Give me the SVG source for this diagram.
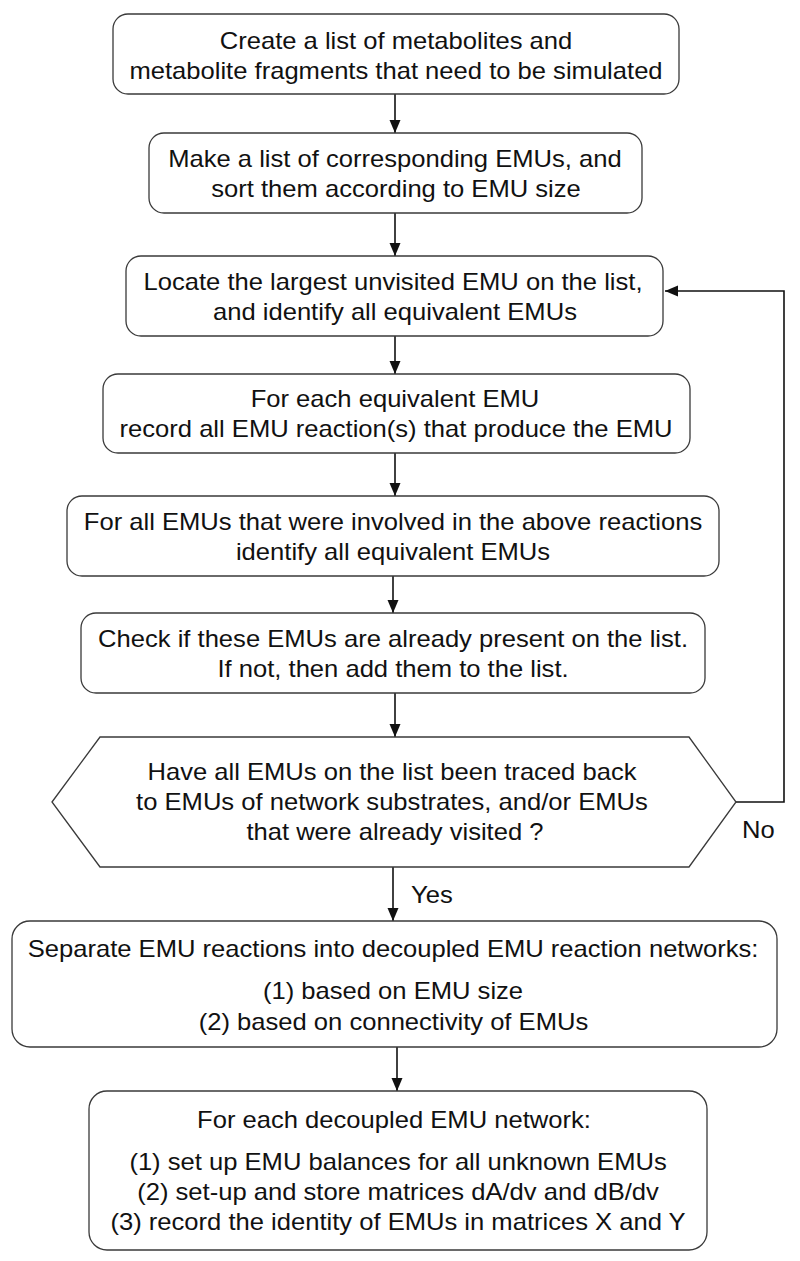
<svg xmlns="http://www.w3.org/2000/svg" width="800" height="1261" viewBox="0 0 800 1261">
<defs>
<style>
.box{fill:#ffffff;stroke:#3a3a3a;stroke-width:1.3}
.t{font-family:"Liberation Sans",Arial,Helvetica,sans-serif;font-size:24px;fill:#111;text-anchor:middle}
.lbl{font-family:"Liberation Sans",Arial,Helvetica,sans-serif;font-size:24px;fill:#111}
.c{fill:none;stroke:#111;stroke-width:1.6}
</style>
<marker id="ah" markerUnits="userSpaceOnUse" markerWidth="14" markerHeight="14" viewBox="0 0 14 14" refX="13" refY="7" orient="auto">
<path d="M0,1.5 L13,7 L0,12.5 Z" fill="#111"/>
</marker>
</defs>
<rect width="800" height="1261" fill="#ffffff"/>
<g id="connectors">
<line class="c" x1="395" y1="94" x2="395" y2="133" marker-end="url(#ah)"/>
<line class="c" x1="395" y1="213" x2="395" y2="256" marker-end="url(#ah)"/>
<line class="c" x1="395" y1="336" x2="395" y2="374" marker-end="url(#ah)"/>
<line class="c" x1="395" y1="453" x2="395" y2="496" marker-end="url(#ah)"/>
<line class="c" x1="393" y1="576" x2="393" y2="613" marker-end="url(#ah)"/>
<line class="c" x1="395" y1="693" x2="395" y2="737" marker-end="url(#ah)"/>
<line class="c" x1="393" y1="867" x2="393" y2="921" marker-end="url(#ah)"/>
<line class="c" x1="397" y1="1047" x2="397" y2="1091" marker-end="url(#ah)"/>
<polyline class="c" points="736,802 784,802 784,291 665,291" marker-end="url(#ah)"/>
<g transform="scale(1.066,1)">
<text class="lbl" x="696" y="838">No</text>
<text class="lbl" x="385.6" y="903">Yes</text>
</g>
</g>
<g id="n1">
<rect class="box" x="113" y="14" width="566" height="80" rx="15"/>
<g transform="scale(1.066,1)">
<text class="t" x="371.5" y="49">Create a list of metabolites and</text>
<text class="t" x="371.5" y="79">metabolite fragments that need to be simulated</text>
</g>
</g>
<g id="n2">
<rect class="box" x="149" y="133" width="493" height="80" rx="15"/>
<g transform="scale(1.066,1)">
<text class="t" x="370.5" y="167">Make a list of corresponding EMUs, and</text>
<text class="t" x="371.5" y="197">sort them according to EMU size</text>
</g>
</g>
<g id="n3">
<rect class="box" x="126" y="256" width="537" height="80" rx="15"/>
<g transform="scale(1.066,1)">
<text class="t" x="368.7" y="290">Locate the largest unvisited EMU on the list,</text>
<text class="t" x="370.5" y="320">and identify all equivalent EMUs</text>
</g>
</g>
<g id="n4">
<rect class="box" x="103" y="374" width="587" height="79" rx="15"/>
<g transform="scale(1.066,1)">
<text class="t" x="370.5" y="407">For each equivalent EMU</text>
<text class="t" x="371.5" y="437">record all EMU reaction(s) that produce the EMU</text>
</g>
</g>
<g id="n5">
<rect class="box" x="67" y="496" width="652" height="80" rx="15"/>
<g transform="scale(1.066,1)">
<text class="t" x="368.7" y="530">For all EMUs that were involved in the above reactions</text>
<text class="t" x="368.7" y="560">identify all equivalent EMUs</text>
</g>
</g>
<g id="n6">
<rect class="box" x="81" y="613" width="624" height="80" rx="15"/>
<g transform="scale(1.066,1)">
<text class="t" x="368.7" y="647">Check if these EMUs are already present on the list.</text>
<text class="t" x="368.7" y="677">If not, then add them to the list.</text>
</g>
</g>
<g id="n7">
<polygon class="box" points="52,802 100,737 689,737 736,802 689,867 100,867"/>
<g transform="scale(1.066,1)">
<text class="t" x="367.7" y="780">Have all EMUs on the list been traced back</text>
<text class="t" x="367.7" y="810">to EMUs of network substrates, and/or EMUs</text>
<text class="t" x="370.5" y="840">that were already visited ?</text>
</g>
</g>
<g id="n8">
<rect class="box" x="12" y="921" width="765" height="126" rx="18"/>
<g transform="scale(1.066,1)">
<text class="t" x="368.7" y="957">Separate EMU reactions into decoupled EMU reaction networks:</text>
<text class="t" x="368.7" y="999">(1) based on EMU size</text>
<text class="t" x="369.1" y="1030">(2) based on connectivity of EMUs</text>
</g>
</g>
<g id="n9">
<rect class="box" x="89" y="1091" width="618" height="159" rx="18"/>
<g transform="scale(1.066,1)">
<text class="t" x="369.6" y="1128">For each decoupled EMU network:</text>
<text class="t" x="373.4" y="1170">(1) set up EMU balances for all unknown EMUs</text>
<text class="t" x="373.4" y="1200">(2) set-up and store matrices dA/dv and dB/dv</text>
<text class="t" x="373.4" y="1230">(3) record the identity of EMUs in matrices X and Y</text>
</g>
</g>
</svg>
